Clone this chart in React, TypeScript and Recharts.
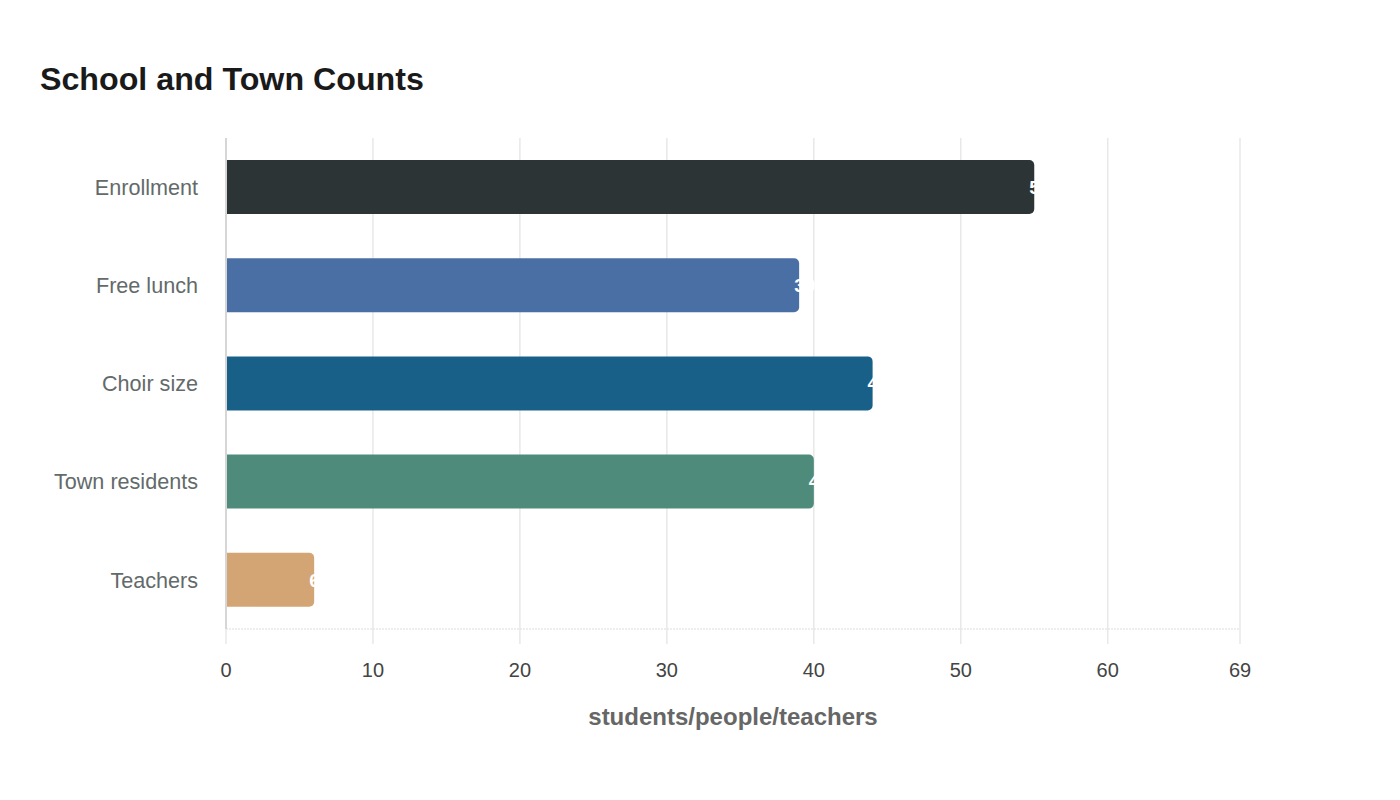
import React from "react";
import { BarChart, Bar, XAxis, YAxis, CartesianGrid, Cell, LabelList } from "recharts";

const categories = ["Enrollment", "Free lunch", "Choir size", "Town residents", "Teachers"];
const values = [55, 39, 44, 40, 6];
const colors = ["#2d3436", "#4a6fa5", "#186087", "#4e8b7a", "#d4a574"];
const xTicks = [0, 10, 20, 30, 40, 50, 60, 69];

const data = categories.map((c, i) => ({ name: c, value: values[i] }));

const FONT = '"Liberation Sans", Arial, sans-serif';

export default function App() {
  return (
    <div style={{ position: "absolute", left: 0, top: 0, width: 1400, height: 800, background: "#fff", fontFamily: FONT }}>
      <div
        style={{
          position: "absolute",
          left: 40,
          top: 59,
          fontSize: 32.2,
          fontWeight: "bold",
          color: "#1a1a1a",
          lineHeight: "40px",
          whiteSpace: "nowrap",
        }}
      >
        School and Town Counts
      </div>
      <div style={{ position: "absolute", left: 0, top: 0 }}>
        <BarChart
          width={1400}
          height={800}
          data={data}
          layout="vertical"
          margin={{ top: 138, right: 160, bottom: 71, left: 0 }}
          barSize={54}
        >
          <CartesianGrid horizontal={false} vertical={true} stroke="#e8e8e8" strokeWidth={1.5} />
          <XAxis
            type="number"
            domain={[0, 69]}
            ticks={xTicks}
            interval={0}
            height={100}
            axisLine={{ stroke: "#dcdcdc", strokeDasharray: "2 1" }}
            tickLine={{ stroke: "#e8e8e8", strokeWidth: 1.5 }}
            tickSize={15}
            tickMargin={19}
            tick={{ fill: "#444", fontSize: 20, fontFamily: FONT }}
            label={{
              content: (props: any) => {
                const vb = props.viewBox || {};
                return (
                  <text
                    x={vb.x + vb.width / 2}
                    y={vb.y + 96}
                    textAnchor="middle"
                    fill="#666"
                    fontSize={24}
                    fontWeight="bold"
                    fontFamily={FONT}
                  >
                    students/people/teachers
                  </text>
                );
              },
            }}
          />
          <YAxis
            type="category"
            dataKey="name"
            width={226}
            axisLine={{ stroke: "#d6d6d6", strokeWidth: 2 }}
            tickLine={false}
            tickSize={6}
            tickMargin={22}
            tick={{ fill: "#636a6a", fontSize: 21.6, fontFamily: FONT }}
          />
          <Bar dataKey="value" isAnimationActive={false} radius={[0, 5, 5, 0]}>
            {data.map((d, i) => (
              <Cell key={d.name} fill={colors[i]} />
            ))}
            <LabelList
              dataKey="value"
              position="right"
              offset={-5}
              fill="#ffffff"
              fontSize={19}
              fontWeight="bold"
              fontFamily={FONT}
            />
          </Bar>
        </BarChart>
      </div>
    </div>
  );
}
